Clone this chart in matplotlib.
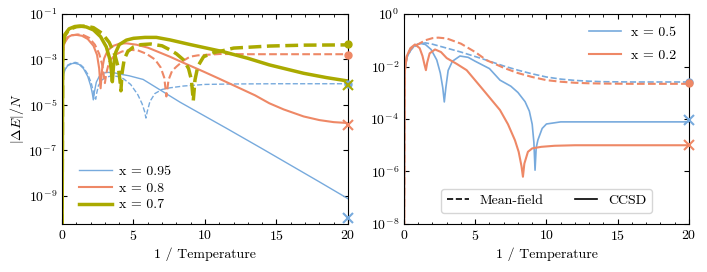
import numpy as np
import matplotlib
matplotlib.use("Agg")
import matplotlib.pyplot as plt
from matplotlib.lines import Line2D
from matplotlib.ticker import NullLocator, MultipleLocator

plt.rcParams.update({
    "font.family": "serif",
    "font.serif": ["cmr10"],
    "mathtext.fontset": "cm",
    "axes.formatter.use_mathtext": True,
    "axes.unicode_minus": False,
    "font.size": 10,
})

BLUE = "#77AADD"
SALMON = "#EE8866"
OLIVE = "#AAAA00"

# ---- left panel: log10(|dE|/N) ----
cc95_x = [0, 0.05, 0.2, 0.4, 0.7, 0.9, 1.2, 1.5, 1.8, 2.0, 2.12, 2.19, 2.26, 2.4, 2.6, 2.9,
          3.2, 3.6, 4.0, 4.7, 5.67, 7.4, 8.25, 10, 11.5, 14, 16, 18, 20]
cc95_y = [-12, -3.8, -3.45, -3.28, -3.18, -3.17, -3.22, -3.4, -3.75, -4.15, -4.5, -4.78, -4.45,
          -4.0, -3.75, -3.6, -3.57, -3.58, -3.64, -3.72, -3.88, -4.55, -4.88, -5.5, -6.03,
          -6.93, -7.66, -8.39, -9.13]
mf95_x = [0, 0.05, 0.2, 0.4, 0.7, 0.95, 1.2, 1.5, 1.8, 2.05, 2.2, 2.3, 2.36, 2.42, 2.55, 2.8,
          3.1, 3.5, 3.9, 4.3, 4.8, 5.3, 5.6, 5.78, 5.87, 5.96, 6.15, 6.5, 7.0, 7.55, 8.5, 10,
          12, 15, 20]
mf95_y = [-12, -3.85, -3.45, -3.25, -3.15, -3.13, -3.18, -3.35, -3.65, -4.05, -4.45, -4.7,
          -4.75, -4.5, -4.15, -3.9, -3.78, -3.72, -3.75, -3.85, -4.1, -4.55, -4.95, -5.3,
          -5.58, -5.3, -4.85, -4.5, -4.32, -4.25, -4.17, -4.1, -4.08, -4.07, -4.07]

cc80_x = [0, 0.05, 0.2, 0.4, 0.7, 1.03, 1.4, 1.8, 2.2, 2.45, 2.6, 2.7, 2.8, 2.95, 3.2, 3.6,
          4.0, 4.5, 5.2, 6.0, 7.55, 8.5, 9.88, 11, 12.2, 13.5, 14.5, 15.5, 16.9, 18, 19, 20]
cc80_y = [-12, -2.6, -2.2, -2.02, -1.93, -1.92, -1.96, -2.1, -2.4, -2.8, -3.4, -4.27, -3.45,
          -2.95, -2.6, -2.4, -2.31, -2.29, -2.35, -2.48, -2.88, -3.15, -3.53, -3.85, -4.2,
          -4.58, -4.93, -5.2, -5.51, -5.67, -5.76, -5.8]
mf80_x = [0, 0.05, 0.2, 0.4, 0.7, 1.1, 1.5, 1.9, 2.3, 2.6, 2.8, 2.92, 3.0, 3.1, 3.3, 3.7,
          4.2, 4.8, 5.3, 5.9, 6.5, 6.9, 7.15, 7.3, 7.45, 7.7, 8.0, 8.5, 8.95, 9.5, 11.05, 13,
          15, 20]
mf80_y = [-12, -2.7, -2.25, -2.05, -1.94, -1.9, -1.93, -2.05, -2.35, -2.75, -3.2, -3.7, -4.04,
          -3.6, -3.1, -2.8, -2.65, -2.58, -2.6, -2.75, -3.0, -3.35, -3.8, -4.63, -3.9, -3.5,
          -3.32, -3.05, -2.88, -2.82, -2.76, -2.77, -2.77, -2.77]

cc70_x = [0, 0.05, 0.2, 0.5, 0.9, 1.26, 1.7, 2.2, 2.7, 3.1, 3.35, 3.45, 3.52, 3.6, 3.75, 4.0,
          4.5, 5.0, 5.8, 6.6, 7.55, 9, 11.28, 13, 14.5, 16.9, 18.5, 20]
cc70_y = [-12, -2.4, -1.9, -1.65, -1.55, -1.53, -1.57, -1.7, -2.0, -2.45, -3.0, -3.5, -3.98,
          -3.3, -2.7, -2.35, -2.15, -2.07, -2.03, -2.03, -2.14, -2.35, -2.66, -2.95, -3.24,
          -3.61, -3.8, -3.95]
mf70_x = [0, 0.05, 0.2, 0.5, 1.0, 1.6, 2.2, 2.8, 3.3, 3.7, 3.95, 4.05, 4.12, 4.2, 4.35, 4.6,
          5.0, 5.5, 6.2, 7.0, 7.55, 8.0, 8.5, 8.85, 9.05, 9.18, 9.3, 9.5, 9.9, 10.6, 11.28, 12,
          14.5, 17, 20]
mf70_y = [-12, -2.5, -1.95, -1.68, -1.56, -1.53, -1.6, -1.85, -2.25, -2.8, -3.4, -3.9, -4.38,
          -3.6, -3.0, -2.65, -2.45, -2.35, -2.32, -2.4, -2.58, -2.75, -3.02, -3.4, -3.9, -4.82,
          -3.9, -3.3, -2.88, -2.7, -2.61, -2.5, -2.41, -2.37, -2.36]

# zero-temperature reference points at 1/T = 20: (mean-field, CCSD)
left_end = {"0.95": (-4.07, -10.0), "0.8": (-2.8, -5.89), "0.7": (-2.31, -4.14)}

# ---- right panel ----
cc50_x = [0, 0.05, 0.2, 0.5, 0.8, 1.12, 1.5, 1.9, 2.3, 2.55, 2.72, 2.83, 2.94, 3.1, 3.4,
          3.93, 4.5, 5.0, 6.0, 6.74, 7.5, 8.0, 8.5, 8.8, 9.0, 9.12, 9.2, 9.28, 9.4, 9.7, 10,
          11, 13, 16, 20]
cc50_y = [-10, -2.2, -1.65, -1.35, -1.18, -1.12, -1.16, -1.35, -1.75, -2.25, -2.8, -3.35,
          -2.8, -2.15, -1.8, -1.6, -1.65, -1.8, -2.08, -2.52, -2.75, -2.99, -3.34, -3.7,
          -4.2, -4.9, -5.95, -5.1, -4.8, -4.36, -4.19, -4.11, -4.11, -4.11, -4.11]
cc20_x = [0, 0.05, 0.2, 0.45, 0.77, 1.1, 1.3, 1.45, 1.54, 1.63, 1.8, 2.18, 2.6, 3.0, 3.7,
          4.4, 5.5, 6.74, 7.3, 7.79, 8.05, 8.25, 8.35, 8.45, 8.7, 9.0, 9.64, 10.57, 12, 15, 20]
cc20_y = [-10, -2.2, -1.6, -1.3, -1.16, -1.3, -1.6, -1.95, -2.14, -1.85, -1.5, -1.35, -1.45,
          -1.68, -1.9, -2.14, -2.85, -3.66, -4.2, -4.81, -5.25, -5.8, -6.2, -5.7, -5.25,
          -5.12, -5.06, -5.02, -5.0, -5.0, -5.0]
mf50_x = [0, 0.05, 0.2, 0.5, 1.0, 1.5, 2, 3, 4, 5, 5.8, 7, 8, 9, 10, 11, 12, 13, 14, 16,
          18, 20]
mf50_y = [-10, -2.2, -1.65, -1.35, -1.15, -1.1, -1.15, -1.3, -1.45, -1.62, -1.76, -1.98,
          -2.14, -2.28, -2.4, -2.48, -2.53, -2.56, -2.58, -2.59, -2.59, -2.59]
mf20_x = [0, 0.05, 0.2, 0.5, 1.0, 1.5, 2, 2.4, 3, 4, 5, 5.8, 7, 8, 9, 10, 11, 12, 13, 14,
          16, 18, 20]
mf20_y = [-10, -2.2, -1.6, -1.3, -1.15, -1.0, -0.92, -0.9, -0.93, -1.13, -1.45, -1.76,
          -2.05, -2.25, -2.4, -2.52, -2.58, -2.62, -2.64, -2.65, -2.66, -2.66, -2.66]

right_end = {"0.5": (-2.6, -4.05), "0.2": (-2.64, -5.0)}


def lin(v):
    return np.power(10.0, v)


fig = plt.figure(figsize=(7.07, 2.72), dpi=100)
ax1 = fig.add_axes([0.0877, 0.1765, 0.4045, 0.772])
ax2 = fig.add_axes([0.5714, 0.1765, 0.403, 0.772])

left_series = [
    ("0.95", BLUE, 1.0, cc95_x, cc95_y, mf95_x, mf95_y),
    ("0.8", SALMON, 1.5, cc80_x, cc80_y, mf80_x, mf80_y),
    ("0.7", OLIVE, 2.5, cc70_x, cc70_y, mf70_x, mf70_y),
]
for lab, col, lw, cx, cy, mx, my in left_series:
    ax1.plot(mx, lin(my), "--", color=col, lw=lw)
    ax1.plot(cx, lin(cy), "-", color=col, lw=lw, label="x = " + lab)
    mfe, cce = left_end[lab]
    ax1.plot([20], [lin(mfe)], "o", color=col, ms=5, clip_on=False, zorder=5)
    ax1.plot([20], [lin(cce)], "x", color=col, ms=6.5, mew=1.5, clip_on=False, zorder=5)

right_series = [
    ("0.5", BLUE, 1.2, cc50_x, cc50_y, mf50_x, mf50_y),
    ("0.2", SALMON, 1.5, cc20_x, cc20_y, mf20_x, mf20_y),
]
for lab, col, lw, cx, cy, mx, my in right_series:
    ax2.plot(mx, lin(my), "--", color=col, lw=lw)
    ax2.plot(cx, lin(cy), "-", color=col, lw=lw, label="x = " + lab)
    mfe, cce = right_end[lab]
    ax2.plot([20], [lin(mfe)], "o", color=col, ms=5, clip_on=False, zorder=5)
    ax2.plot([20], [lin(cce)], "x", color=col, ms=6.5, mew=1.5, clip_on=False, zorder=5)

ax1.set_yscale("log")
ax1.set_ylim(5.7e-11, 1e-1)
ax1.set_yticks([1e-1, 1e-3, 1e-5, 1e-7, 1e-9])
ax2.set_yscale("log")
ax2.set_ylim(1e-8, 1)
ax2.set_yticks([1, 1e-2, 1e-4, 1e-6, 1e-8])

for ax in (ax1, ax2):
    ax.set_xlim(0, 20)
    ax.xaxis.set_major_locator(MultipleLocator(5))
    ax.xaxis.set_minor_locator(MultipleLocator(1))
    ax.yaxis.set_minor_locator(NullLocator())
    ax.tick_params(which="both", direction="in", top=True, right=True)
    ax.tick_params(which="major", length=3.5, width=0.8)
    ax.tick_params(which="minor", length=1.8, width=0.6)
    ax.set_xlabel("1 / Temperature", labelpad=3)

ax1.set_ylabel(r"$|\Delta E|/N$", labelpad=2)

ax1.legend(loc="lower left", frameon=False, handlelength=2.4, handletextpad=0.5,
           labelspacing=0.3, bbox_to_anchor=(0.015, 0.0))
leg = ax2.legend(loc="upper right", frameon=False, handlelength=2.3, handletextpad=0.7,
                 labelspacing=0.7, bbox_to_anchor=(1.0, 1.0))
ax2.add_artist(leg)
style_handles = [Line2D([], [], color="k", ls="--", lw=1.2),
                 Line2D([], [], color="k", ls="-", lw=1.2)]
ax2.legend(style_handles, ["Mean-field", "CCSD"], loc="lower center", ncol=2,
           handlelength=1.6, columnspacing=2.2, bbox_to_anchor=(0.5, 0.02))

fig.savefig("out.png", dpi=100)
